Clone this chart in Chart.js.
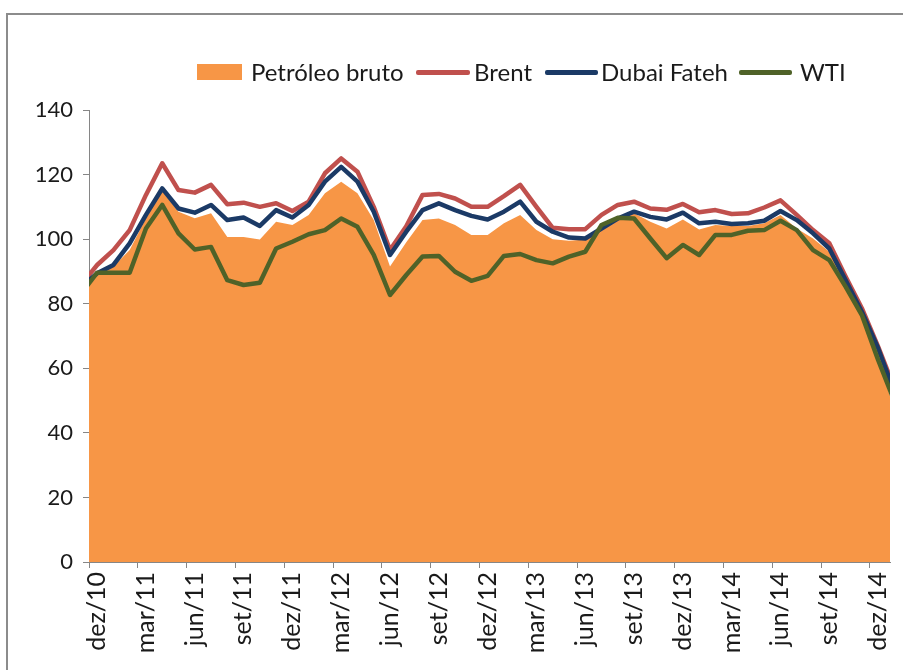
<!DOCTYPE html>
<html>
<head>
<meta charset="utf-8">
<script src="https://cdn.jsdelivr.net/npm/chart.js@4/dist/chart.umd.min.js"></script>
<style>
  body { margin: 0; background: #fff; }
  #wrap { position: relative; width: 903px; height: 670px; overflow: hidden; }
  #frame { position: absolute; left: 6px; top: 13px; width: 920px; height: 700px;
           border-left: 2px solid #8c8c8c; border-top: 2px solid #8c8c8c; }
  canvas { position: absolute; left: 0; top: 0; }
  .lg { position: absolute; font: 24px Lato, sans-serif; color: #1a1a1a; line-height: 24px; top: 60px; white-space: nowrap; }
  .sw { position: absolute; }
</style>
</head>
<body>
<div id="wrap">
  <div id="frame"></div>
  <canvas id="chart" width="903" height="670"></canvas>
  <div class="sw" style="left:197px; top:64px; width:45px; height:16px; background:#F79646"></div>
  <div class="lg" style="left:251px">Petróleo bruto</div>
  <div class="sw" style="left:416px; top:70px; width:54px; height:5px; background:#C0504D; border-radius:2px"></div>
  <div class="lg" style="left:474px">Brent</div>
  <div class="sw" style="left:545px; top:70px; width:53px; height:5px; background:#1B3A66; border-radius:2px"></div>
  <div class="lg" style="left:601px">Dubai Fateh</div>
  <div class="sw" style="left:739px; top:70px; width:53px; height:5px; background:#4F6228; border-radius:2px"></div>
  <div class="lg" style="left:800px">WTI</div>
</div>
<script>
// monthly points, nov/10 .. jan/15 (first and last are cut by the axis edges)
const months = [
  'nov/10', 'dez/10',
  'jan/11', 'fev/11', 'mar/11', 'abr/11', 'mai/11', 'jun/11', 'jul/11', 'ago/11', 'set/11', 'out/11', 'nov/11', 'dez/11',
  'jan/12', 'fev/12', 'mar/12', 'abr/12', 'mai/12', 'jun/12', 'jul/12', 'ago/12', 'set/12', 'out/12', 'nov/12', 'dez/12',
  'jan/13', 'fev/13', 'mar/13', 'abr/13', 'mai/13', 'jun/13', 'jul/13', 'ago/13', 'set/13', 'out/13', 'nov/13', 'dez/13',
  'jan/14', 'fev/14', 'mar/14', 'abr/14', 'mai/14', 'jun/14', 'jul/14', 'ago/14', 'set/14', 'out/14', 'nov/14', 'dez/14',
  'jan/15'
];

// x axis tick labels (every 3 months)
const tickLabels = ['dez/10', 'mar/11', 'jun/11', 'set/11', 'dez/11', 'mar/12', 'jun/12', 'set/12',
  'dez/12', 'mar/13', 'jun/13', 'set/13', 'dez/13', 'mar/14', 'jun/14', 'set/14', 'dez/14'];

const petroleoBruto = [
  83.6, 89.4,
  91.5, 96.6, 106.5, 115.0, 108.5, 106.5, 108.0, 100.7, 100.7, 99.9, 105.4, 104.4,
  107.5, 114.2, 117.8, 114.2, 105.9, 91.5, 99.0, 105.9, 106.4, 104.4, 101.3, 101.3,
  104.9, 107.5, 102.8, 100.0, 99.5, 99.9, 103.3, 106.9, 108.0, 105.4, 103.3, 106.1,
  103.0, 104.4, 104.1, 104.1, 104.9, 107.5, 103.3, 100.2, 96.1, 86.3, 76.0, 62.6,
  47.3
];

const brent = [
  85.8, 92.0,
  96.6, 102.8, 113.7, 123.5, 115.2, 114.4, 116.8, 110.8, 111.3, 110.0, 111.1, 108.7,
  111.6, 120.4, 125.0, 120.9, 110.0, 96.6, 104.0, 113.7, 114.0, 112.6, 110.0, 110.0,
  113.3, 116.8, 110.0, 103.5, 103.1, 103.1, 107.5, 110.6, 111.6, 109.5, 109.1, 110.9,
  108.3, 109.0, 107.8, 108.0, 109.8, 112.0, 107.5, 102.8, 98.7, 88.4, 78.6, 66.7,
  53.9
];

const dubaiFateh = [
  85.2, 89.4,
  92.0, 98.7, 107.5, 115.7, 109.5, 108.2, 110.6, 105.9, 106.7, 104.1, 109.0, 106.7,
  110.6, 117.8, 122.4, 117.8, 108.5, 95.1, 102.3, 109.0, 111.1, 109.0, 107.2, 106.1,
  108.5, 111.6, 105.4, 102.3, 100.5, 100.2, 103.3, 106.4, 108.5, 106.9, 106.1, 108.2,
  104.9, 105.4, 104.7, 104.9, 105.7, 108.7, 105.9, 101.8, 97.1, 87.3, 77.5, 66.2,
  52.7
];

const wti = [
  83.0, 89.6,
  89.6, 89.6, 103.3, 110.6, 101.8, 96.8, 97.6, 87.3, 85.8, 86.5, 97.1, 99.2,
  101.5, 102.8, 106.4, 103.8, 95.1, 82.7, 88.9, 94.6, 94.8, 89.9, 87.1, 88.6,
  94.8, 95.4, 93.5, 92.5, 94.6, 96.1, 104.4, 106.6, 106.4, 100.2, 94.1, 98.2,
  95.1, 101.3, 101.3, 102.6, 102.8, 105.7, 102.8, 96.6, 93.5, 85.3, 76.5, 62.6,
  49.8
];

// month position: dez/10 = 0, nov/10 = -1
function toPoints(values) {
  return values.map((v, i) => ({ x: i - 1, y: v }));
}

const axisColor = '#868686';

function lineSet(label, values, color, order) {
  return {
    label: label,
    data: toPoints(values),
    borderColor: color,
    borderWidth: 4.5,
    borderJoinStyle: 'round',
    borderCapStyle: 'round',
    pointRadius: 0,
    fill: false,
    tension: 0,
    clip: 0,
    order: order
  };
}

new Chart(document.getElementById('chart').getContext('2d'), {
  type: 'line',
  data: {
    datasets: [
      {
        label: 'Petróleo bruto',
        data: toPoints(petroleoBruto),
        backgroundColor: '#F79646',
        borderWidth: 0,
        pointRadius: 0,
        fill: 'origin',
        tension: 0,
        clip: 0,
        order: 4
      },
      lineSet('Brent', brent, '#C0504D', 3),
      lineSet('Dubai Fateh', dubaiFateh, '#1B3A66', 2),
      lineSet('WTI', wti, '#4F6228', 1)
    ]
  },
  options: {
    responsive: false,
    animation: false,
    layout: { padding: { top: 110, right: 13, bottom: 8, left: 0 } },
    plugins: {
      legend: { display: false },
      tooltip: { enabled: false }
    },
    scales: {
      x: {
        type: 'linear',
        min: -0.5,
        max: 48.73,
        afterBuildTicks: (scale) => {
          scale.ticks = tickLabels.map((_, k) => ({ value: -0.5 + 3 * k }));
        },
        afterFit: (scale) => {
          scale.height = 100;
          scale.paddingLeft = 0;
          scale.paddingRight = 0;
        },
        ticks: {
          callback: (value, index) => tickLabels[index],
          minRotation: 90,
          maxRotation: 90,
          autoSkip: false,
          labelOffset: 8,
          padding: 4,
          color: '#1a1a1a',
          font: { family: 'Lato', size: 25 }
        },
        grid: { drawOnChartArea: false, drawTicks: true, tickLength: 6, color: axisColor },
        border: { display: true, color: axisColor, width: 1 }
      },
      y: {
        min: 0,
        max: 140,
        afterFit: (scale) => { scale.width = 89; },
        ticks: { stepSize: 20, padding: 10, color: '#1a1a1a', font: { family: 'Lato', size: 22 } },
        grid: { drawOnChartArea: false, drawTicks: true, tickLength: 6, color: axisColor },
        border: { display: true, color: axisColor, width: 1 }
      }
    }
  }
});
</script>
</body>
</html>
